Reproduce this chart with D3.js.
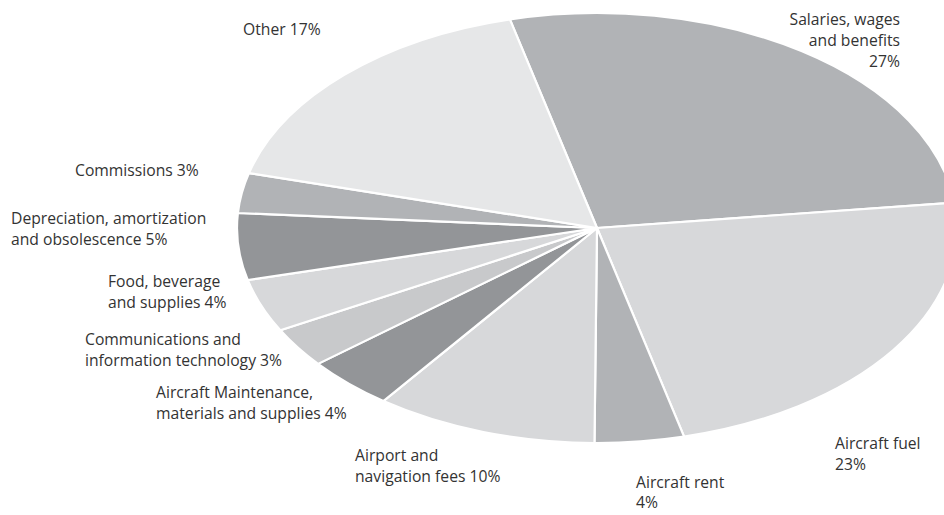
<!DOCTYPE html>
<html>
<head>
<meta charset="utf-8">
<script src="https://cdn.jsdelivr.net/npm/d3@7"></script>
<style>
  html, body { margin: 0; padding: 0; background: #fff; }
  svg { display: block; }
  text { font-family: "Open Sans", "Noto Sans", sans-serif; font-size: 15.7px; fill: #333; }
</style>
</head>
<body>
<svg id="chart" width="944" height="515"></svg>
<script>
// Operating expense breakdown, in percent, clockwise from the top
const categories = [
  "Salaries, wages and benefits",
  "Aircraft fuel",
  "Aircraft rent",
  "Airport and navigation fees",
  "Aircraft Maintenance, materials and supplies",
  "Communications and information technology",
  "Food, beverage and supplies",
  "Depreciation, amortization and obsolescence",
  "Commissions",
  "Other"
];
const shares = [27, 23, 4, 10, 4, 3, 4, 5, 3, 17];
const fills = ["#b1b3b6", "#d7d8da", "#b1b3b6", "#d7d8da", "#939598",
               "#c8c9cb", "#d7d8da", "#939598", "#b1b3b6", "#e6e7e8"];

// Label lines per slice
const labelLines = [
  ["Salaries, wages", "and benefits", "27%"],
  ["Aircraft fuel", "23%"],
  ["Aircraft rent", "4%"],
  ["Airport and", "navigation fees 10%"],
  ["Aircraft Maintenance,", "materials and supplies 4%"],
  ["Communications and", "information technology 3%"],
  ["Food, beverage", "and supplies 4%"],
  ["Depreciation, amortization", "and obsolescence 5%"],
  ["Commissions 3%"],
  ["Other 17%"]
];

const svg = d3.select("#chart");
const cx = 597, cy = 228, rx = 360, ry = 215;
const startDeg = -14;

const data = categories.map((c, i) => ({ name: c, value: shares[i], fill: fills[i] }));

const pie = d3.pie()
  .sort(null)
  .value(d => d.value)
  .startAngle(startDeg * Math.PI / 180)
  .endAngle((startDeg + 360) * Math.PI / 180);

const arc = d3.arc().innerRadius(0).outerRadius(ry);

// The pie is drawn as a circle and stretched horizontally into an ellipse
const g = svg.append("g")
  .attr("transform", `translate(${cx},${cy}) scale(${rx / ry},1)`);

g.selectAll("path")
  .data(pie(data))
  .join("path")
  .attr("d", arc)
  .attr("fill", d => d.data.fill)
  .attr("stroke", "#fff")
  .attr("stroke-width", 2.2)
  .attr("stroke-linejoin", "round")
  .attr("vector-effect", "non-scaling-stroke");

// Label placement: anchor point, alignment and line spacing
const labelPos = [
  { x: 900, y: 25, anchor: "end", gap: 21 },
  { x: 835, y: 449, anchor: "start", gap: 21 },
  { x: 636, y: 488, anchor: "start", gap: 20 },
  { x: 355, y: 461, anchor: "start", gap: 21 },
  { x: 156, y: 398, anchor: "start", gap: 21 },
  { x: 85, y: 345, anchor: "start", gap: 21 },
  { x: 108, y: 287, anchor: "start", gap: 21 },
  { x: 11, y: 224, anchor: "start", gap: 21 },
  { x: 75, y: 176, anchor: "start", gap: 21 },
  { x: 243, y: 35, anchor: "start", gap: 21 }
];

const labels = svg.append("g").selectAll("text")
  .data(labelLines)
  .join("text")
  .attr("text-anchor", (d, i) => labelPos[i].anchor)
  .attr("x", (d, i) => labelPos[i].x)
  .attr("y", (d, i) => labelPos[i].y);

labels.selectAll("tspan")
  .data((d, i) => d.map((line, j) => ({ line, j, i })))
  .join("tspan")
  .attr("x", d => labelPos[d.i].x)
  .attr("y", d => labelPos[d.i].y + d.j * labelPos[d.i].gap)
  .text(d => d.line);
</script>
</body>
</html>
